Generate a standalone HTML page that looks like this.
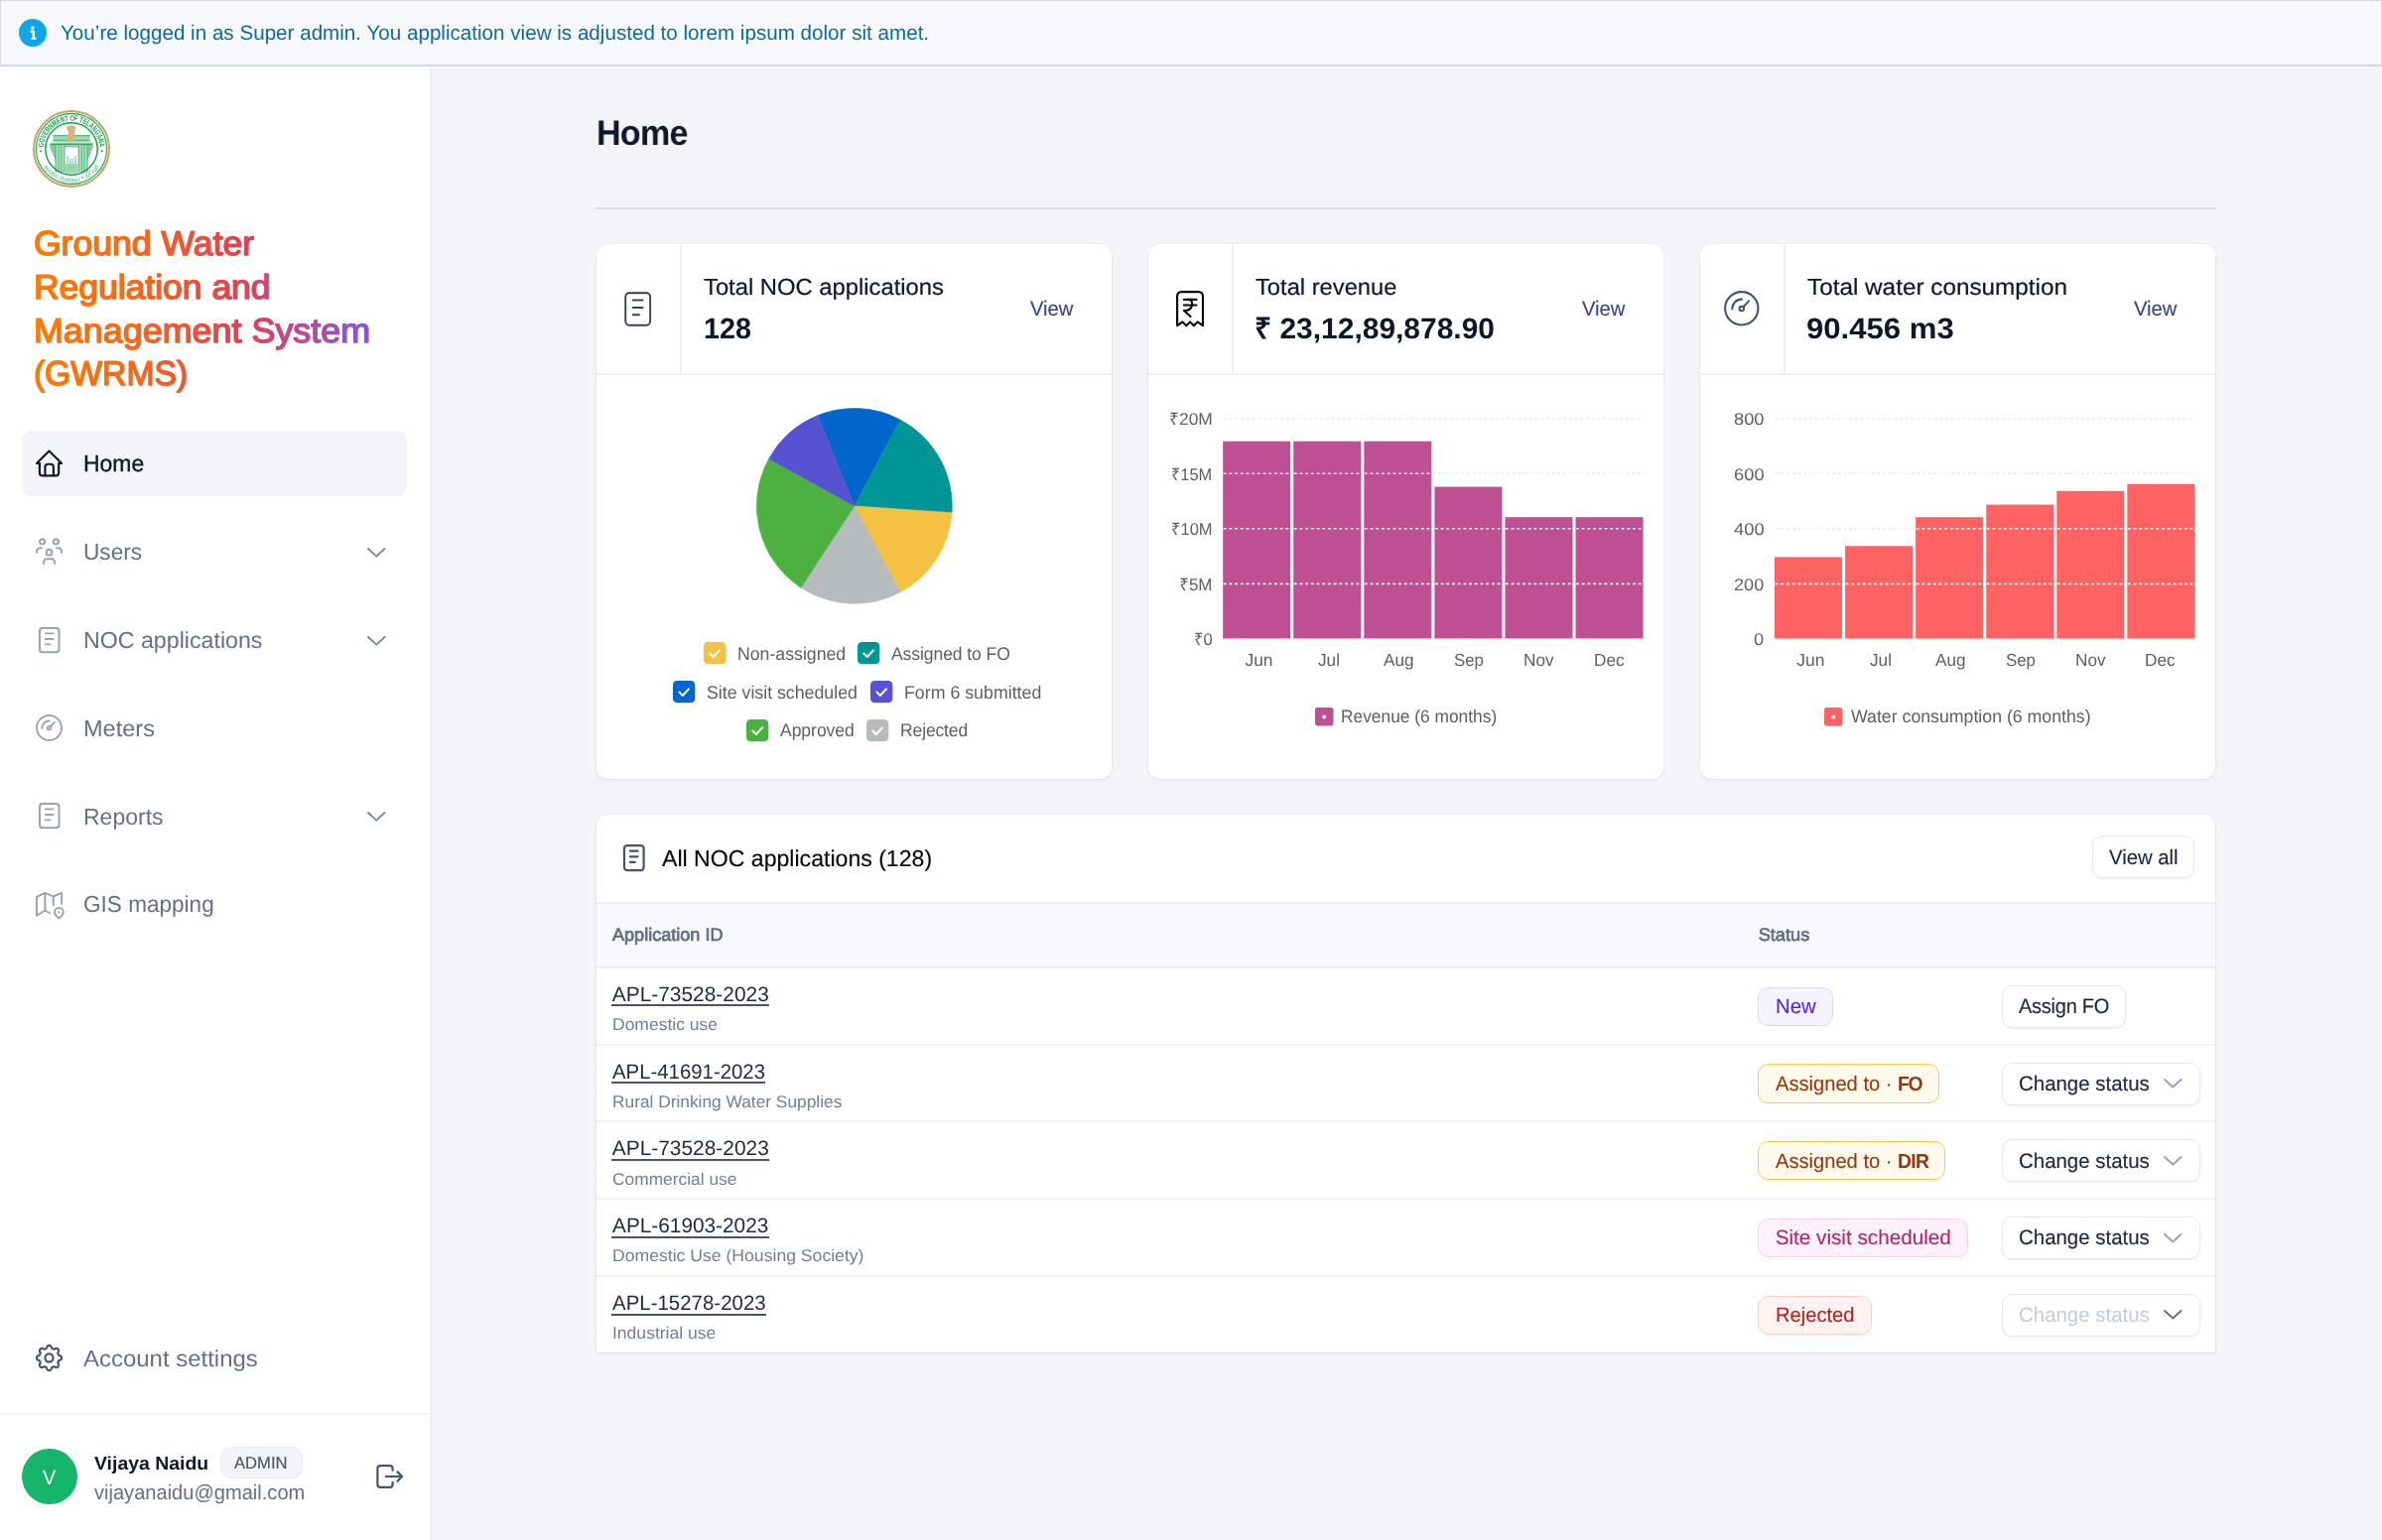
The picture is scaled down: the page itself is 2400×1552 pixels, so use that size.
<!DOCTYPE html><html><head><meta charset="utf-8"><title>Home</title><style>
*{box-sizing:border-box;margin:0;padding:0}
html,body{width:2400px;height:1552px;overflow:hidden}
body{background:#f2f4f8;font-family:"Liberation Sans",sans-serif;position:relative}
.t{position:absolute;white-space:pre;line-height:1;display:block;transform-origin:0 0;text-rendering:geometricPrecision}
#root{position:absolute;left:0;top:0;width:2400px;height:1552px;will-change:transform}
.abs{position:absolute}
svg{position:absolute;overflow:visible}
.card{position:absolute;background:#fff;border-radius:12px;box-shadow:0 1px 3px rgba(16,24,40,.07),0 0 0 1px rgba(16,24,40,.025)}
.btn{position:absolute;background:#fff;border:1.2px solid #e5e8ee;border-radius:10px;box-shadow:0 1px 2px rgba(16,24,40,.06)}
.badge{position:absolute;border-radius:9px;border:1.3px solid}
.hl{position:absolute;height:2px;background:#eceef4}
.vl{position:absolute;width:1.6px;background:#eceef4}
</style></head><body>
<div id="root">
<div class="abs" style="left:0;top:66px;width:435px;height:1486px;background:#fff;border-right:2px solid #eceef3"></div><svg style="left:20px;top:100px" width="100" height="100" viewBox="0 0 100 100"><circle cx="52" cy="50" r="38" fill="#fff" stroke="#c9a463" stroke-width="2.1"/><circle cx="52" cy="50" r="35.6" fill="none" stroke="#19a34e" stroke-width="1.1"/><circle cx="52" cy="50" r="26.2" fill="none" stroke="#19a34e" stroke-width="1.5"/><defs><path id="lp1" d="M 23.74 48.52 A 28.3 28.3 0 0 1 80.26 48.52"/><path id="lp2" d="M 20.23 60.32 A 33.4 33.4 0 0 0 83.77 60.32"/></defs><text font-family="Liberation Sans" font-weight="700" font-size="8" fill="#19a34e"><textPath href="#lp1" textLength="85" lengthAdjust="spacingAndGlyphs">GOVERNMENT OF TELANGANA</textPath></text><text font-family="Liberation Sans" font-weight="400" font-style="italic" font-size="6.4" fill="#19a34e" opacity=".8" letter-spacing="0"><textPath href="#lp2" startOffset="50%" text-anchor="middle">eoooo dooojuu • /u/ rüñ</textPath></text><circle cx="21.2" cy="52.2" r="1.05" fill="#19a34e"/><circle cx="82.8" cy="52.2" r="1.05" fill="#19a34e"/><g fill="#19a34e"><rect x="30.6" y="44.4" width="42.8" height="2" opacity=".95"/><rect x="33.4" y="36.6" width="37.2" height="7" opacity=".42"/><rect x="33.4" y="36.2" width="37.2" height="1" opacity=".8"/><rect x="33.4" y="40.8" width="37.2" height=".9" opacity=".7"/><path d="M29.4 46.4h6.4v15.2z" opacity=".55"/><path d="M74.6 46.4h-6.4v15.2z" opacity=".55"/><rect x="35.6" y="46.6" width="9.6" height="27.4" opacity=".34"/><rect x="58.8" y="46.6" width="9.6" height="27.4" opacity=".34"/><rect x="45.8" y="65" width="12.4" height="9.6" opacity=".45"/><rect x="35.6" y="46.6" width=".9" height="27" opacity=".75"/><rect x="38.6" y="46.6" width=".9" height="27" opacity=".75"/><rect x="41.4" y="46.6" width=".9" height="27" opacity=".75"/><rect x="44.4" y="46.6" width=".9" height="27" opacity=".75"/><rect x="58.8" y="46.6" width=".9" height="27" opacity=".75"/><rect x="61.8" y="46.6" width=".9" height="27" opacity=".75"/><rect x="64.6" y="46.6" width=".9" height="27" opacity=".75"/><rect x="67.6" y="46.6" width=".9" height="27" opacity=".75"/><rect x="47.6" y="57" width="1.1" height="8" opacity=".6"/><rect x="50.4" y="60" width="1.1" height="5" opacity=".6"/><rect x="52.6" y="60" width="1.1" height="5" opacity=".6"/><rect x="55.4" y="57" width="1.1" height="8" opacity=".6"/><rect x="44.6" y="47" width="14.8" height="1.4" opacity=".6"/></g><g fill="#d8b27c"><ellipse cx="51.8" cy="29.6" rx="4.6" ry="3"/><rect x="48.8" y="31" width="6.4" height="9" rx="1.4"/><rect x="47.6" y="39.6" width="8.4" height="3.4" opacity=".7"/></g></svg><svg style="left:0;top:0" width="440" height="420" viewBox="0 0 440 420"><defs><linearGradient id="tg" gradientUnits="userSpaceOnUse" x1="34" y1="0" x2="374" y2="0"><stop offset="0" stop-color="#ff7a00"/><stop offset=".3" stop-color="#f8681a"/><stop offset=".58" stop-color="#e5434a"/><stop offset=".79" stop-color="#b94b94"/><stop offset="1" stop-color="#8456e0"/></linearGradient></defs><text x="33.90" y="257" textLength="222.30" lengthAdjust="spacingAndGlyphs" text-rendering="geometricPrecision" font-family="Liberation Sans" font-size="34.6" font-weight="400" fill="url(#tg)" stroke="url(#tg)" stroke-width="1.5" stroke-linejoin="round" >Ground Water</text><text x="33.90" y="301" textLength="238.70" lengthAdjust="spacingAndGlyphs" text-rendering="geometricPrecision" font-family="Liberation Sans" font-size="34.6" font-weight="400" fill="url(#tg)" stroke="url(#tg)" stroke-width="1.5" stroke-linejoin="round" >Regulation and</text><text x="33.90" y="345" textLength="339.30" lengthAdjust="spacingAndGlyphs" text-rendering="geometricPrecision" font-family="Liberation Sans" font-size="34.6" font-weight="400" fill="url(#tg)" stroke="url(#tg)" stroke-width="1.5" stroke-linejoin="round" >Management System</text><text x="33.90" y="388" textLength="155.30" lengthAdjust="spacingAndGlyphs" text-rendering="geometricPrecision" font-family="Liberation Sans" font-size="34.6" font-weight="400" fill="url(#tg)" stroke="url(#tg)" stroke-width="1.5" stroke-linejoin="round" >(GWRMS)</text></svg><div class="abs" style="left:22px;top:433.6px;width:387.5px;height:66.4px;background:#f2f4f8;border-radius:9px"></div><span class="t" style="left:83.80px;top:456.00px;font-size:23.2px;color:#0f172a;transform:scaleX(0.9910);-webkit-text-stroke:0.35px #0f172a;">Home</span><svg style="left:36.05px;top:452.8px" width="27.1" height="27.8" viewBox="0 0 27 28" preserveAspectRatio="none"><g fill="none" stroke="#0f172a" stroke-width="2.15" stroke-linecap="round" stroke-linejoin="round"><path d="M1 14.1H3.9M23.1 14.1H26M1.6 13.3 13.5 1.5 25.4 13.3"/><path d="M3.9 14.1v9.5a3 3 0 0 0 3 3h13.2a3 3 0 0 0 3-3v-9.5"/><path d="M9.4 26.4v-8.6a3 3 0 0 1 3-3h2.4a3 3 0 0 1 3 3v8.6"/></g></svg><span class="t" style="left:84.00px;top:545.00px;font-size:23.2px;color:#667085;transform:scaleX(0.9775);">Users</span><svg style="left:36px;top:542.46px" width="27" height="27" viewBox="0 0 24 24" preserveAspectRatio="none"><g fill="none" stroke="#98a2b3" stroke-width="1.8" stroke-linecap="round" stroke-linejoin="round"><circle cx="5.9" cy="3.4" r="2.3"/><circle cx="18.1" cy="3.4" r="2.3"/><circle cx="12" cy="13" r="2.6"/><path d="M1 13.2v-1.4a2.6 2.6 0 0 1 2.6-2.6h1.6"/><path d="M23 13.2v-1.4a2.6 2.6 0 0 0-2.6-2.6h-1.6"/><path d="M7 23v-1.2a3 3 0 0 1 3-3h4a3 3 0 0 1 3 3V23"/></g></svg><svg style="left:369.6px;top:551.7600000000001px" width="18.6" height="9.6" viewBox="0 0 18.6 9.6"><path d="M1 1 L9.3 8.6 L17.6 1" fill="none" stroke="#7a86a0" stroke-width="1.9" stroke-linecap="round" stroke-linejoin="round"/></svg><span class="t" style="left:84.00px;top:634.00px;font-size:23.2px;color:#667085;">NOC applications</span><svg style="left:38.9px;top:631.72px" width="21.5" height="26.2" viewBox="0 0 22 27" preserveAspectRatio="none"><g fill="none" stroke="#98a2b3" stroke-width="2.0" stroke-linecap="round" stroke-linejoin="round"><rect x="1" y="1" width="20" height="25" rx="3"/><path d="M7 6.6h7.9M7 12.3h7.9M7 17.9h5"/></g></svg><svg style="left:369.6px;top:640.6200000000001px" width="18.6" height="9.6" viewBox="0 0 18.6 9.6"><path d="M1 1 L9.3 8.6 L17.6 1" fill="none" stroke="#7a86a0" stroke-width="1.9" stroke-linecap="round" stroke-linejoin="round"/></svg><span class="t" style="left:84.00px;top:723.00px;font-size:23.2px;color:#667085;transform:scaleX(1.0145);">Meters</span><svg style="left:36px;top:720.1800000000001px" width="27" height="27" viewBox="0 0 36 36" preserveAspectRatio="none"><g fill="none" stroke="#98a2b3" stroke-width="2.5" stroke-linecap="round" stroke-linejoin="round"><circle cx="18" cy="18" r="16.65"/><path d="M8.4 18.6A9.6 9.6 0 0 1 18.2 8.7"/><circle cx="18" cy="18.2" r="2.3"/><path d="M19.7 16.5 25.3 10.5"/></g></svg><span class="t" style="left:84.00px;top:812.00px;font-size:23.2px;color:#667085;transform:scaleX(0.9926);">Reports</span><svg style="left:38.9px;top:809.4399999999999px" width="21.5" height="26.2" viewBox="0 0 22 27" preserveAspectRatio="none"><g fill="none" stroke="#98a2b3" stroke-width="2.0" stroke-linecap="round" stroke-linejoin="round"><rect x="1" y="1" width="20" height="25" rx="3"/><path d="M7 6.6h7.9M7 12.3h7.9M7 17.9h5"/></g></svg><svg style="left:369.6px;top:818.34px" width="18.6" height="9.6" viewBox="0 0 18.6 9.6"><path d="M1 1 L9.3 8.6 L17.6 1" fill="none" stroke="#7a86a0" stroke-width="1.9" stroke-linecap="round" stroke-linejoin="round"/></svg><span class="t" style="left:84.00px;top:900.00px;font-size:23.2px;color:#667085;transform:scaleX(0.9731);">GIS mapping</span><svg style="left:36.05px;top:899.4000000000001px" width="29" height="28" viewBox="0 0 29 28" preserveAspectRatio="none"><g fill="none" stroke="#98a2b3" stroke-width="1.9" stroke-linecap="round" stroke-linejoin="round"><path d="M14.1 21.2 9.4 18.5 0.95 23.7V4.9L9.4 0.95l8.3 3.55L26.1 0.95V12"/><path d="M9.4 0.95V18.5M17.7 4.5v8.8"/><path d="M27.8 20.3c0 3-4.4 6.2-4.4 6.2s-4.4-3.2-4.4-6.2a4.4 4.4 0 0 1 8.8 0z"/></g><circle cx="23.4" cy="20.3" r="1.15" fill="#98a2b3"/></svg><svg style="left:36px;top:1354.9px" width="27" height="27" viewBox="0 0 24 24" preserveAspectRatio="none"><g fill="none" stroke="#475467" stroke-width="1.95" stroke-linecap="round" stroke-linejoin="round"><path d="M12.00 0.85L12.29 0.86L12.58 0.91L12.87 0.99L13.14 1.13L13.40 1.35L13.64 1.65L13.85 2.03L14.03 2.45L14.20 2.84L14.37 3.16L14.55 3.40L14.74 3.57L14.94 3.71L15.14 3.82L15.35 3.92L15.56 4.00L15.79 4.06L16.02 4.11L16.28 4.11L16.58 4.07L16.92 3.97L17.32 3.81L17.74 3.64L18.16 3.52L18.54 3.47L18.88 3.51L19.17 3.61L19.43 3.75L19.67 3.92L19.88 4.12L20.08 4.33L20.25 4.57L20.39 4.83L20.49 5.12L20.53 5.46L20.48 5.84L20.36 6.26L20.19 6.68L20.03 7.08L19.93 7.42L19.89 7.72L19.89 7.98L19.94 8.21L20.00 8.44L20.08 8.65L20.18 8.86L20.29 9.06L20.43 9.26L20.60 9.45L20.84 9.63L21.16 9.80L21.55 9.97L21.97 10.15L22.35 10.36L22.65 10.60L22.87 10.86L23.01 11.13L23.09 11.42L23.14 11.71L23.15 12.00L23.14 12.29L23.09 12.58L23.01 12.87L22.87 13.14L22.65 13.40L22.35 13.64L21.97 13.85L21.55 14.03L21.16 14.20L20.84 14.37L20.60 14.55L20.43 14.74L20.29 14.94L20.18 15.14L20.08 15.35L20.00 15.56L19.94 15.79L19.89 16.02L19.89 16.28L19.93 16.58L20.03 16.92L20.19 17.32L20.36 17.74L20.48 18.16L20.53 18.54L20.49 18.88L20.39 19.17L20.25 19.43L20.08 19.67L19.88 19.88L19.67 20.08L19.43 20.25L19.17 20.39L18.88 20.49L18.54 20.53L18.16 20.48L17.74 20.36L17.32 20.19L16.92 20.03L16.58 19.93L16.28 19.89L16.02 19.89L15.79 19.94L15.56 20.00L15.35 20.08L15.14 20.18L14.94 20.29L14.74 20.43L14.55 20.60L14.37 20.84L14.20 21.16L14.03 21.55L13.85 21.97L13.64 22.35L13.40 22.65L13.14 22.87L12.87 23.01L12.58 23.09L12.29 23.14L12.00 23.15L11.71 23.14L11.42 23.09L11.13 23.01L10.86 22.87L10.60 22.65L10.36 22.35L10.15 21.97L9.97 21.55L9.80 21.16L9.63 20.84L9.45 20.60L9.26 20.43L9.06 20.29L8.86 20.18L8.65 20.08L8.44 20.00L8.21 19.94L7.98 19.89L7.72 19.89L7.42 19.93L7.08 20.03L6.68 20.19L6.26 20.36L5.84 20.48L5.46 20.53L5.12 20.49L4.83 20.39L4.57 20.25L4.33 20.08L4.12 19.88L3.92 19.67L3.75 19.43L3.61 19.17L3.51 18.88L3.47 18.54L3.52 18.16L3.64 17.74L3.81 17.32L3.97 16.92L4.07 16.58L4.11 16.28L4.11 16.02L4.06 15.79L4.00 15.56L3.92 15.35L3.82 15.14L3.71 14.94L3.57 14.74L3.40 14.55L3.16 14.37L2.84 14.20L2.45 14.03L2.03 13.85L1.65 13.64L1.35 13.40L1.13 13.14L0.99 12.87L0.91 12.58L0.86 12.29L0.85 12.00L0.86 11.71L0.91 11.42L0.99 11.13L1.13 10.86L1.35 10.60L1.65 10.36L2.03 10.15L2.45 9.97L2.84 9.80L3.16 9.63L3.40 9.45L3.57 9.26L3.71 9.06L3.82 8.86L3.92 8.65L4.00 8.44L4.06 8.21L4.11 7.98L4.11 7.72L4.07 7.42L3.97 7.08L3.81 6.68L3.64 6.26L3.52 5.84L3.47 5.46L3.51 5.12L3.61 4.83L3.75 4.57L3.92 4.33L4.12 4.12L4.33 3.92L4.57 3.75L4.83 3.61L5.12 3.51L5.46 3.47L5.84 3.52L6.26 3.64L6.68 3.81L7.08 3.97L7.42 4.07L7.72 4.11L7.98 4.11L8.21 4.06L8.44 4.00L8.65 3.92L8.86 3.82L9.06 3.71L9.26 3.57L9.45 3.40L9.63 3.16L9.80 2.84L9.97 2.45L10.15 2.03L10.36 1.65L10.60 1.35L10.86 1.13L11.13 0.99L11.42 0.91L11.71 0.86Z"/><circle cx="12" cy="12" r="3.6"/></g></svg><span class="t" style="left:84.00px;top:1358.00px;font-size:23.2px;color:#667085;transform:scaleX(1.0333);">Account settings</span><div class="hl" style="left:0;top:1424px;width:432px;background:#eff1f5"></div><div class="abs" style="left:21.8px;top:1460.2px;width:55.8px;height:55.8px;border-radius:50%;background:#15b56c"></div><span class="t" style="left:43.40px;top:1480.00px;font-size:20.6px;color:#fff;letter-spacing:-0.833px;transform:scaleX(0.9600);">V</span><span class="t" style="left:94.80px;top:1466.00px;font-size:18.8px;color:#0f172a;font-weight:700;transform:scaleX(1.0345);">Vijaya Naidu</span><div class="abs" style="left:221.8px;top:1457.6px;width:83.4px;height:32.8px;border-radius:11px;background:#f2f4f8;border:1.2px solid #e9ebf2"></div><span class="t" style="left:236.40px;top:1466.00px;font-size:17.2px;color:#475467;transform:scaleX(0.9677);-webkit-text-stroke:0.15px #475467;">ADMIN</span><span class="t" style="left:95.10px;top:1495.00px;font-size:20.9px;color:#667085;transform:scaleX(0.9609);">vijayanaidu@gmail.com</span><svg style="left:379px;top:1475px" width="28" height="26" viewBox="0 0 28 26" preserveAspectRatio="none"><g fill="none" stroke="#475467" stroke-width="2.2" stroke-linecap="round" stroke-linejoin="round"><path d="M16.6 6.8V4.9a2.8 2.8 0 0 0-2.8-2.8H4.2a2.8 2.8 0 0 0-2.8 2.8v16.2a2.8 2.8 0 0 0 2.8 2.8h9.6a2.8 2.8 0 0 0 2.8-2.8v-2.3"/><path d="M9.9 13h15.9M21.5 8.4 26.1 13 21.5 17.6"/></g></svg>
<span class="t" style="left:601.20px;top:117.00px;font-size:35.6px;color:#0f172a;font-weight:700;letter-spacing:-0.870px;transform:scaleX(0.9600);">Home</span><div class="hl" style="left:600px;top:209.4px;width:1632px;background:#d9dde7"></div><div class="card" style="left:600.9px;top:245.8px;width:519.3px;height:539.4px"></div><div class="hl" style="left:600.9px;top:376.4px;width:519.3px"></div><div class="vl" style="left:685.3px;top:245.8px;height:131px"></div><svg style="left:629.3px;top:293.6px" width="27.4" height="35" viewBox="0 0 22 27" preserveAspectRatio="none"><g fill="none" stroke="#344054" stroke-width="1.5" stroke-linecap="round" stroke-linejoin="round"><rect x="1" y="1" width="20" height="25" rx="3"/><path d="M7 6.6h7.9M7 12.3h7.9M7 17.9h5"/></g></svg><span class="t" style="left:708.90px;top:278.00px;font-size:23.2px;color:#0f172a;transform:scaleX(1.0260);-webkit-text-stroke:0.22px #0f172a;">Total NOC applications</span><span class="t" style="left:708.50px;top:317.00px;font-size:29.4px;color:#0f172a;font-weight:700;transform:scaleX(0.9787);">128</span><span class="t" style="left:1037.90px;top:302.00px;font-size:20.9px;color:#3e4784;transform:scaleX(0.9665);-webkit-text-stroke:0.15px #3e4784;">View</span><svg style="left:0;top:0" width="2400" height="1552" viewBox="0 0 2400 1552"><path d="M860.9 509.9L824.02 418.62A98.45 98.45 0 0 1 907.12 422.97Z" fill="#0066cc" stroke="#0066cc" stroke-width="0.6"/><path d="M860.9 509.9L907.12 422.97A98.45 98.45 0 0 1 959.11 516.77Z" fill="#009596" stroke="#009596" stroke-width="0.6"/><path d="M860.9 509.9L959.11 516.77A98.45 98.45 0 0 1 907.12 596.83Z" fill="#f4c145" stroke="#f4c145" stroke-width="0.6"/><path d="M860.9 509.9L907.12 596.83A98.45 98.45 0 0 1 806.99 592.28Z" fill="#b8bbbe" stroke="#b8bbbe" stroke-width="0.6"/><path d="M860.9 509.9L806.99 592.28A98.45 98.45 0 0 1 774.79 462.17Z" fill="#4cb140" stroke="#4cb140" stroke-width="0.6"/><path d="M860.9 509.9L774.79 462.17A98.45 98.45 0 0 1 824.02 418.62Z" fill="#5752d1" stroke="#5752d1" stroke-width="0.6"/></svg><svg style="left:708.9px;top:647.4px" width="22.3" height="22.3" viewBox="0 0 22.3 22.3"><rect width="22.3" height="22.3" rx="4.4" fill="#f4c145"/><path d="M6.4 11.6l3.4 3.4 6.2-6.6" fill="none" stroke="#fff" stroke-width="2.1" stroke-linecap="round" stroke-linejoin="round"/></svg><span class="t" style="left:743.00px;top:650.00px;font-size:18.3px;color:#5c5f62;transform:scaleX(0.9680);">Non-assigned</span><svg style="left:864.4px;top:647.4px" width="22.3" height="22.3" viewBox="0 0 22.3 22.3"><rect width="22.3" height="22.3" rx="4.4" fill="#009596"/><path d="M6.4 11.6l3.4 3.4 6.2-6.6" fill="none" stroke="#fff" stroke-width="2.1" stroke-linecap="round" stroke-linejoin="round"/></svg><span class="t" style="left:898.20px;top:650.00px;font-size:18.3px;color:#5c5f62;letter-spacing:-0.093px;transform:scaleX(0.9600);">Assigned to FO</span><svg style="left:678.2px;top:686.2px" width="22.3" height="22.3" viewBox="0 0 22.3 22.3"><rect width="22.3" height="22.3" rx="4.4" fill="#0066cc"/><path d="M6.4 11.6l3.4 3.4 6.2-6.6" fill="none" stroke="#fff" stroke-width="2.1" stroke-linecap="round" stroke-linejoin="round"/></svg><span class="t" style="left:712.30px;top:689.00px;font-size:18.3px;color:#5c5f62;transform:scaleX(0.9706);">Site visit scheduled</span><svg style="left:876.7px;top:686.2px" width="22.3" height="22.3" viewBox="0 0 22.3 22.3"><rect width="22.3" height="22.3" rx="4.4" fill="#5752d1"/><path d="M6.4 11.6l3.4 3.4 6.2-6.6" fill="none" stroke="#fff" stroke-width="2.1" stroke-linecap="round" stroke-linejoin="round"/></svg><span class="t" style="left:910.50px;top:689.00px;font-size:18.3px;color:#5c5f62;transform:scaleX(0.9723);">Form 6 submitted</span><svg style="left:751.9px;top:725.0px" width="22.3" height="22.3" viewBox="0 0 22.3 22.3"><rect width="22.3" height="22.3" rx="4.4" fill="#4cb140"/><path d="M6.4 11.6l3.4 3.4 6.2-6.6" fill="none" stroke="#fff" stroke-width="2.1" stroke-linecap="round" stroke-linejoin="round"/></svg><span class="t" style="left:786.00px;top:727.00px;font-size:18.3px;color:#5c5f62;letter-spacing:-0.050px;transform:scaleX(0.9600);">Approved</span><svg style="left:872.8px;top:725.0px" width="22.3" height="22.3" viewBox="0 0 22.3 22.3"><rect width="22.3" height="22.3" rx="4.4" fill="#b8bbbe"/><path d="M6.4 11.6l3.4 3.4 6.2-6.6" fill="none" stroke="#fff" stroke-width="2.1" stroke-linecap="round" stroke-linejoin="round"/></svg><span class="t" style="left:906.60px;top:727.00px;font-size:18.3px;color:#5c5f62;letter-spacing:-0.159px;transform:scaleX(0.9600);">Rejected</span><div class="card" style="left:1156.8px;top:245.8px;width:519.3px;height:539.4px"></div><div class="hl" style="left:1156.8px;top:376.4px;width:519.3px"></div><div class="vl" style="left:1241.2px;top:245.8px;height:131px"></div><svg style="left:1184.9px;top:292.9px" width="28.1" height="36.1" viewBox="0 0 28 36" preserveAspectRatio="none"><g fill="none" stroke="#050505" stroke-width="2.1" stroke-linecap="round" stroke-linejoin="round"><path d="M1.1 35V5.4A4.3 4.3 0 0 1 5.4 1.1h17.2a4.3 4.3 0 0 1 4.3 4.3V35l-5.4-3.7-3.7 3.9-3.8-3.9-3.8 3.9-3.7-3.9z"/><path d="M7.9 8.9h12.5M7.9 14.4h12.5"/><path d="M12.4 8.9c5.6 0 5.6 11.1-4.5 11.1l6.6 6"/></g></svg><span class="t" style="left:1264.80px;top:278.00px;font-size:23.2px;color:#0f172a;transform:scaleX(1.0229);-webkit-text-stroke:0.22px #0f172a;">Total revenue</span><span class="t" style="left:1264.40px;top:317.00px;font-size:29.4px;color:#0f172a;font-weight:700;transform:scaleX(1.0191);">₹ 23,12,89,878.90</span><span class="t" style="left:1593.80px;top:302.00px;font-size:20.9px;color:#3e4784;transform:scaleX(0.9665);-webkit-text-stroke:0.15px #3e4784;">View</span><svg style="left:0;top:0" width="2400" height="1552" viewBox="0 0 2400 1552"><line x1="1233.2" y1="421.7" x2="1656.2" y2="421.7" stroke="#e8eaf0" stroke-width="1.5" stroke-dasharray="2.9 2.8"/><line x1="1233.2" y1="477.2" x2="1656.2" y2="477.2" stroke="#e8eaf0" stroke-width="1.5" stroke-dasharray="2.9 2.8"/><line x1="1233.2" y1="532.8" x2="1656.2" y2="532.8" stroke="#e8eaf0" stroke-width="1.5" stroke-dasharray="2.9 2.8"/><line x1="1233.2" y1="588.4" x2="1656.2" y2="588.4" stroke="#e8eaf0" stroke-width="1.5" stroke-dasharray="2.9 2.8"/><line x1="1232.2" y1="644.2" x2="1656.2" y2="644.2" stroke="#ececec" stroke-width="1.6"/><rect x="1232.20" y="444.7" width="68" height="198.70" fill="#bd4f92"/><line x1="1232.70" y1="477.2" x2="1300.20" y2="477.2" stroke="#fff" stroke-opacity=".9" stroke-width="1.6" stroke-dasharray="2.9 2.8"/><line x1="1232.70" y1="532.8" x2="1300.20" y2="532.8" stroke="#fff" stroke-opacity=".9" stroke-width="1.6" stroke-dasharray="2.9 2.8"/><line x1="1232.70" y1="588.4" x2="1300.20" y2="588.4" stroke="#fff" stroke-opacity=".9" stroke-width="1.6" stroke-dasharray="2.9 2.8"/><rect x="1303.27" y="444.7" width="68" height="198.70" fill="#bd4f92"/><line x1="1303.77" y1="477.2" x2="1371.27" y2="477.2" stroke="#fff" stroke-opacity=".9" stroke-width="1.6" stroke-dasharray="2.9 2.8"/><line x1="1303.77" y1="532.8" x2="1371.27" y2="532.8" stroke="#fff" stroke-opacity=".9" stroke-width="1.6" stroke-dasharray="2.9 2.8"/><line x1="1303.77" y1="588.4" x2="1371.27" y2="588.4" stroke="#fff" stroke-opacity=".9" stroke-width="1.6" stroke-dasharray="2.9 2.8"/><rect x="1374.34" y="444.7" width="68" height="198.70" fill="#bd4f92"/><line x1="1374.84" y1="477.2" x2="1442.34" y2="477.2" stroke="#fff" stroke-opacity=".9" stroke-width="1.6" stroke-dasharray="2.9 2.8"/><line x1="1374.84" y1="532.8" x2="1442.34" y2="532.8" stroke="#fff" stroke-opacity=".9" stroke-width="1.6" stroke-dasharray="2.9 2.8"/><line x1="1374.84" y1="588.4" x2="1442.34" y2="588.4" stroke="#fff" stroke-opacity=".9" stroke-width="1.6" stroke-dasharray="2.9 2.8"/><rect x="1445.41" y="490.6" width="68" height="152.80" fill="#bd4f92"/><line x1="1445.91" y1="532.8" x2="1513.41" y2="532.8" stroke="#fff" stroke-opacity=".9" stroke-width="1.6" stroke-dasharray="2.9 2.8"/><line x1="1445.91" y1="588.4" x2="1513.41" y2="588.4" stroke="#fff" stroke-opacity=".9" stroke-width="1.6" stroke-dasharray="2.9 2.8"/><rect x="1516.48" y="521.2" width="68" height="122.20" fill="#bd4f92"/><line x1="1516.98" y1="532.8" x2="1584.48" y2="532.8" stroke="#fff" stroke-opacity=".9" stroke-width="1.6" stroke-dasharray="2.9 2.8"/><line x1="1516.98" y1="588.4" x2="1584.48" y2="588.4" stroke="#fff" stroke-opacity=".9" stroke-width="1.6" stroke-dasharray="2.9 2.8"/><rect x="1587.55" y="521.2" width="68" height="122.20" fill="#bd4f92"/><line x1="1588.05" y1="532.8" x2="1655.55" y2="532.8" stroke="#fff" stroke-opacity=".9" stroke-width="1.6" stroke-dasharray="2.9 2.8"/><line x1="1588.05" y1="588.4" x2="1655.55" y2="588.4" stroke="#fff" stroke-opacity=".9" stroke-width="1.6" stroke-dasharray="2.9 2.8"/></svg><span class="t" style="left:1177.80px;top:414.00px;font-size:17px;color:#5c5f62;transform:scaleX(1.0234);">₹20M</span><span class="t" style="left:1180.40px;top:470.00px;font-size:17px;color:#5c5f62;transform:scaleX(0.9627);">₹15M</span><span class="t" style="left:1180.00px;top:525.00px;font-size:17px;color:#5c5f62;transform:scaleX(0.9720);">₹10M</span><span class="t" style="left:1188.20px;top:581.00px;font-size:17px;color:#5c5f62;">₹5M</span><span class="t" style="left:1203.00px;top:636.00px;font-size:17px;color:#5c5f62;transform:scaleX(0.9694);">₹0</span><span class="t" style="left:1254.50px;top:657.00px;font-size:17.4px;color:#5c5f62;">Jun</span><span class="t" style="left:1328.00px;top:657.00px;font-size:17.4px;color:#5c5f62;transform:scaleX(0.9895);">Jul</span><span class="t" style="left:1393.95px;top:657.00px;font-size:17.4px;color:#5c5f62;transform:scaleX(0.9854);">Aug</span><span class="t" style="left:1464.70px;top:657.00px;font-size:17.4px;color:#5c5f62;transform:scaleX(0.9692);">Sep</span><span class="t" style="left:1534.75px;top:657.00px;font-size:17.4px;color:#5c5f62;transform:scaleX(0.9859);">Nov</span><span class="t" style="left:1605.55px;top:657.00px;font-size:17.4px;color:#5c5f62;transform:scaleX(0.9859);">Dec</span><svg style="left:1325px;top:713.2px" width="18.5" height="18.5" viewBox="0 0 18.5 18.5"><rect width="18.5" height="18.5" rx="2.7" fill="#bd4f92"/><circle cx="9.2" cy="9.4" r="2" fill="#fff"/></svg><span class="t" style="left:1351.10px;top:713.00px;font-size:18px;color:#5c5f62;transform:scaleX(0.9639);">Revenue (6 months)</span><div class="card" style="left:1712.6px;top:245.8px;width:519.3px;height:539.4px"></div><div class="hl" style="left:1712.6px;top:376.4px;width:519.3px"></div><div class="vl" style="left:1797.0px;top:245.8px;height:131px"></div><svg style="left:1736.5px;top:293.1px" width="35.6" height="35.6" viewBox="0 0 36 36" preserveAspectRatio="none"><g fill="none" stroke="#44546a" stroke-width="2.1" stroke-linecap="round" stroke-linejoin="round"><circle cx="18" cy="18" r="16.85"/><path d="M8.4 18.6A9.6 9.6 0 0 1 18.2 8.7"/><circle cx="18" cy="18.2" r="2.3"/><path d="M19.7 16.5 25.3 10.5"/></g></svg><span class="t" style="left:1820.60px;top:278.00px;font-size:23.2px;color:#0f172a;transform:scaleX(1.0478);-webkit-text-stroke:0.22px #0f172a;">Total water consumption</span><span class="t" style="left:1820.20px;top:317.00px;font-size:29.4px;color:#0f172a;font-weight:700;transform:scaleX(1.0587);">90.456 m3</span><span class="t" style="left:2149.60px;top:302.00px;font-size:20.9px;color:#3e4784;transform:scaleX(0.9665);-webkit-text-stroke:0.15px #3e4784;">View</span><svg style="left:0;top:0" width="2400" height="1552" viewBox="0 0 2400 1552"><line x1="1789.0" y1="421.7" x2="2212.0" y2="421.7" stroke="#e8eaf0" stroke-width="1.5" stroke-dasharray="2.9 2.8"/><line x1="1789.0" y1="477.2" x2="2212.0" y2="477.2" stroke="#e8eaf0" stroke-width="1.5" stroke-dasharray="2.9 2.8"/><line x1="1789.0" y1="532.8" x2="2212.0" y2="532.8" stroke="#e8eaf0" stroke-width="1.5" stroke-dasharray="2.9 2.8"/><line x1="1789.0" y1="588.4" x2="2212.0" y2="588.4" stroke="#e8eaf0" stroke-width="1.5" stroke-dasharray="2.9 2.8"/><line x1="1788.0" y1="644.2" x2="2212.0" y2="644.2" stroke="#ececec" stroke-width="1.6"/><rect x="1788.00" y="561.4" width="68" height="82.00" fill="#fe6262"/><line x1="1788.50" y1="588.4" x2="1856.00" y2="588.4" stroke="#fff" stroke-opacity=".9" stroke-width="1.6" stroke-dasharray="2.9 2.8"/><rect x="1859.07" y="550.3" width="68" height="93.10" fill="#fe6262"/><line x1="1859.57" y1="588.4" x2="1927.07" y2="588.4" stroke="#fff" stroke-opacity=".9" stroke-width="1.6" stroke-dasharray="2.9 2.8"/><rect x="1930.14" y="521.2" width="68" height="122.20" fill="#fe6262"/><line x1="1930.64" y1="532.8" x2="1998.14" y2="532.8" stroke="#fff" stroke-opacity=".9" stroke-width="1.6" stroke-dasharray="2.9 2.8"/><line x1="1930.64" y1="588.4" x2="1998.14" y2="588.4" stroke="#fff" stroke-opacity=".9" stroke-width="1.6" stroke-dasharray="2.9 2.8"/><rect x="2001.21" y="508.6" width="68" height="134.80" fill="#fe6262"/><line x1="2001.71" y1="532.8" x2="2069.21" y2="532.8" stroke="#fff" stroke-opacity=".9" stroke-width="1.6" stroke-dasharray="2.9 2.8"/><line x1="2001.71" y1="588.4" x2="2069.21" y2="588.4" stroke="#fff" stroke-opacity=".9" stroke-width="1.6" stroke-dasharray="2.9 2.8"/><rect x="2072.28" y="494.8" width="68" height="148.60" fill="#fe6262"/><line x1="2072.78" y1="532.8" x2="2140.28" y2="532.8" stroke="#fff" stroke-opacity=".9" stroke-width="1.6" stroke-dasharray="2.9 2.8"/><line x1="2072.78" y1="588.4" x2="2140.28" y2="588.4" stroke="#fff" stroke-opacity=".9" stroke-width="1.6" stroke-dasharray="2.9 2.8"/><rect x="2143.35" y="487.8" width="68" height="155.60" fill="#fe6262"/><line x1="2143.85" y1="532.8" x2="2211.35" y2="532.8" stroke="#fff" stroke-opacity=".9" stroke-width="1.6" stroke-dasharray="2.9 2.8"/><line x1="2143.85" y1="588.4" x2="2211.35" y2="588.4" stroke="#fff" stroke-opacity=".9" stroke-width="1.6" stroke-dasharray="2.9 2.8"/></svg><span class="t" style="left:1747.00px;top:414.00px;font-size:17px;color:#5c5f62;transform:scaleX(1.0714);">800</span><span class="t" style="left:1746.80px;top:470.00px;font-size:17px;color:#5c5f62;letter-spacing:0.045px;transform:scaleX(1.0750);">600</span><span class="t" style="left:1746.60px;top:525.00px;font-size:17px;color:#5c5f62;letter-spacing:0.138px;transform:scaleX(1.0750);">400</span><span class="t" style="left:1747.20px;top:581.00px;font-size:17px;color:#5c5f62;transform:scaleX(1.0643);">200</span><span class="t" style="left:1767.20px;top:636.00px;font-size:17px;color:#5c5f62;transform:scaleX(1.0750);">0</span><span class="t" style="left:1810.30px;top:657.00px;font-size:17.4px;color:#5c5f62;">Jun</span><span class="t" style="left:1883.80px;top:657.00px;font-size:17.4px;color:#5c5f62;transform:scaleX(0.9895);">Jul</span><span class="t" style="left:1949.75px;top:657.00px;font-size:17.4px;color:#5c5f62;transform:scaleX(0.9854);">Aug</span><span class="t" style="left:2020.50px;top:657.00px;font-size:17.4px;color:#5c5f62;transform:scaleX(0.9692);">Sep</span><span class="t" style="left:2090.55px;top:657.00px;font-size:17.4px;color:#5c5f62;transform:scaleX(0.9859);">Nov</span><span class="t" style="left:2161.35px;top:657.00px;font-size:17.4px;color:#5c5f62;transform:scaleX(0.9859);">Dec</span><svg style="left:1838.3px;top:713.2px" width="18.5" height="18.5" viewBox="0 0 18.5 18.5"><rect width="18.5" height="18.5" rx="2.7" fill="#fe6262"/><circle cx="9.2" cy="9.4" r="2" fill="#fff"/></svg><span class="t" style="left:1864.70px;top:713.00px;font-size:18px;color:#5c5f62;transform:scaleX(0.9844);">Water consumption (6 months)</span><div class="card" style="left:601px;top:820.8px;width:1631px;height:542.6px;overflow:hidden;border-radius:12px 12px 0 0"><div class="abs" style="left:0;top:88.4px;width:1631px;height:66.4px;background:#f8f9fc;border-top:2px solid #eceef4;border-bottom:2px solid #eceef4"></div></div><svg style="left:627.9px;top:850.6px" width="21.6" height="27" viewBox="0 0 22 27" preserveAspectRatio="none"><g fill="none" stroke="#475467" stroke-width="2.25" stroke-linecap="round" stroke-linejoin="round"><rect x="1" y="1" width="20" height="25" rx="3"/><path d="M7 6.6h7.9M7 12.3h7.9M7 17.9h5"/></g></svg><span class="t" style="left:667.30px;top:854.00px;font-size:23.2px;color:#05070d;transform:scaleX(0.9959);-webkit-text-stroke:0.15px #05070d;">All NOC applications (128)</span><div class="btn" style="left:2108.1px;top:842.4px;width:102.8px;height:43px"></div><span class="t" style="left:2124.70px;top:855.00px;font-size:20.9px;color:#1d2939;transform:scaleX(0.9719);-webkit-text-stroke:0.15px #1d2939;">View all</span><span class="t" style="left:617.00px;top:933.00px;font-size:18.2px;color:#5f6c84;transform:scaleX(0.9936);-webkit-text-stroke:0.7px #5f6c84;">Application ID</span><span class="t" style="left:1771.70px;top:933.00px;font-size:18.2px;color:#5f6c84;-webkit-text-stroke:0.7px #5f6c84;">Status</span><span class="t" style="left:616.80px;top:993.00px;font-size:20.9px;color:#1d2939;">APL-73528-2023</span><div class="abs" style="left:616px;top:1012px;width:158.9px;height:2px;background:#4b5565"></div><span class="t" style="left:616.80px;top:1024.00px;font-size:17px;color:#717e98;transform:scaleX(1.0293);">Domestic use</span><div class="badge" style="left:1771px;top:994.60px;width:76.00px;height:39.2px;border-radius:10.4px;background:#f4f3ff;border-color:#d9d6fe;border-width:1.4px"></div><span class="t" style="left:1788.70px;top:1005.00px;font-size:20.7px;color:#5925dc;transform:scaleX(0.9833);-webkit-text-stroke:0.1px #5925dc;">New</span><div class="btn" style="left:2017.4px;top:992.80px;width:125px;height:43px"></div><span class="t" style="left:2034.40px;top:1005.00px;font-size:20.9px;color:#1d2939;letter-spacing:-0.290px;transform:scaleX(0.9600);-webkit-text-stroke:0.15px #1d2939;">Assign FO</span><div class="hl" style="left:601px;top:1051.56px;width:1631px;background:#f0f2f6"></div><span class="t" style="left:616.80px;top:1071.00px;font-size:20.9px;color:#1d2939;transform:scaleX(0.9749);">APL-41691-2023</span><div class="abs" style="left:616px;top:1090px;width:155.2px;height:2px;background:#4b5565"></div><span class="t" style="left:616.80px;top:1102.00px;font-size:17px;color:#717e98;transform:scaleX(1.0186);">Rural Drinking Water Supplies</span><div class="badge" style="left:1771px;top:1072.36px;width:183.00px;height:39.2px;border-radius:10.4px;background:#fffaeb;border-color:#fec84b;border-width:1.7px"></div><span class="t" style="left:1788.70px;top:1083.00px;font-size:20.7px;color:#93370d;transform:scaleX(0.9731);-webkit-text-stroke:0.1px #93370d;">Assigned to ·</span><span class="t" style="left:1911.50px;top:1083.00px;font-size:20.2px;color:#93370d;font-weight:700;letter-spacing:-1.380px;transform:scaleX(0.9600);">FO</span><div class="btn" style="left:2017.4px;top:1070.56px;width:199.2px;height:43px"></div><span class="t" style="left:2034.40px;top:1083.00px;font-size:20.9px;color:#1d2939;transform:scaleX(0.9783);-webkit-text-stroke:0.15px #1d2939;">Change status</span><svg style="left:2179.8px;top:1087.1599999999999px" width="18.6" height="9.6" viewBox="0 0 18.6 9.6"><path d="M1 1 L9.3 8.6 L17.6 1" fill="none" stroke="#98a2b3" stroke-width="2.0" stroke-linecap="round" stroke-linejoin="round"/></svg><div class="hl" style="left:601px;top:1129.32px;width:1631px;background:#f0f2f6"></div><span class="t" style="left:616.80px;top:1148.00px;font-size:20.9px;color:#1d2939;">APL-73528-2023</span><div class="abs" style="left:616px;top:1168px;width:158.9px;height:2px;background:#4b5565"></div><span class="t" style="left:616.80px;top:1180.00px;font-size:17px;color:#717e98;transform:scaleX(1.0211);">Commercial use</span><div class="badge" style="left:1771px;top:1150.12px;width:188.50px;height:39.2px;border-radius:10.4px;background:#fffaeb;border-color:#fec84b;border-width:1.7px"></div><span class="t" style="left:1788.70px;top:1161.00px;font-size:20.7px;color:#93370d;transform:scaleX(0.9731);-webkit-text-stroke:0.1px #93370d;">Assigned to ·</span><span class="t" style="left:1911.50px;top:1161.00px;font-size:20.2px;color:#93370d;font-weight:700;letter-spacing:-0.776px;transform:scaleX(0.9600);">DIR</span><div class="btn" style="left:2017.4px;top:1148.32px;width:199.2px;height:43px"></div><span class="t" style="left:2034.40px;top:1161.00px;font-size:20.9px;color:#1d2939;transform:scaleX(0.9783);-webkit-text-stroke:0.15px #1d2939;">Change status</span><svg style="left:2179.8px;top:1164.9199999999998px" width="18.6" height="9.6" viewBox="0 0 18.6 9.6"><path d="M1 1 L9.3 8.6 L17.6 1" fill="none" stroke="#98a2b3" stroke-width="2.0" stroke-linecap="round" stroke-linejoin="round"/></svg><div class="hl" style="left:601px;top:1207.08px;width:1631px;background:#f0f2f6"></div><span class="t" style="left:616.80px;top:1226.00px;font-size:20.9px;color:#1d2939;transform:scaleX(0.9958);">APL-61903-2023</span><div class="abs" style="left:616px;top:1246px;width:158.5px;height:2px;background:#4b5565"></div><span class="t" style="left:616.80px;top:1257.00px;font-size:17px;color:#717e98;transform:scaleX(1.0359);">Domestic Use (Housing Society)</span><div class="badge" style="left:1771px;top:1227.88px;width:212.20px;height:39.2px;border-radius:10.4px;background:#fdf2fa;border-color:#fcceee;border-width:1.4px"></div><span class="t" style="left:1788.70px;top:1238.00px;font-size:20.7px;color:#b4226f;-webkit-text-stroke:0.1px #b4226f;">Site visit scheduled</span><div class="btn" style="left:2017.4px;top:1226.08px;width:199.2px;height:43px"></div><span class="t" style="left:2034.40px;top:1238.00px;font-size:20.9px;color:#1d2939;transform:scaleX(0.9783);-webkit-text-stroke:0.15px #1d2939;">Change status</span><svg style="left:2179.8px;top:1242.6799999999998px" width="18.6" height="9.6" viewBox="0 0 18.6 9.6"><path d="M1 1 L9.3 8.6 L17.6 1" fill="none" stroke="#98a2b3" stroke-width="2.0" stroke-linecap="round" stroke-linejoin="round"/></svg><div class="hl" style="left:601px;top:1284.84px;width:1631px;background:#f0f2f6"></div><span class="t" style="left:616.80px;top:1304.00px;font-size:20.9px;color:#1d2939;transform:scaleX(0.9793);">APL-15278-2023</span><div class="abs" style="left:616px;top:1324px;width:155.9px;height:2px;background:#4b5565"></div><span class="t" style="left:616.80px;top:1335.00px;font-size:17px;color:#717e98;transform:scaleX(1.0314);">Industrial use</span><div class="badge" style="left:1771px;top:1305.64px;width:114.80px;height:39.2px;border-radius:10.4px;background:#fef3f2;border-color:#fecdca;border-width:1.4px"></div><span class="t" style="left:1788.70px;top:1316.00px;font-size:20.7px;color:#b42318;transform:scaleX(0.9736);-webkit-text-stroke:0.1px #b42318;">Rejected</span><div class="btn" style="left:2017.4px;top:1303.84px;width:199.2px;height:43px"></div><span class="t" style="left:2034.40px;top:1316.00px;font-size:20.9px;color:#c6cbd8;transform:scaleX(0.9783);">Change status</span><svg style="left:2179.8px;top:1320.4399999999998px" width="18.6" height="9.6" viewBox="0 0 18.6 9.6"><path d="M1 1 L9.3 8.6 L17.6 1" fill="none" stroke="#667085" stroke-width="2.0" stroke-linecap="round" stroke-linejoin="round"/></svg>
<div class="abs" style="left:0;top:0;width:2400px;height:66.8px;background:#f8f9fd;border:1px solid #d5d9ea;border-bottom:2px solid #d3d7e9"></div><svg style="left:19px;top:19px" width="28" height="28" viewBox="0 0 28 28"><circle cx="14" cy="14" r="14" fill="#0ea5e9"/><circle cx="13.9" cy="8.9" r="1.75" fill="#fff"/><path d="M11.6 12.7h3.2v7.2" fill="none" stroke="#fff" stroke-width="2.4" stroke-linejoin="round"/><path d="M13.4 19.7h3.2" stroke="#fff" stroke-width="2.1" stroke-linecap="round"/></svg><span class="t" style="left:60.90px;top:24.00px;font-size:20.9px;color:#0b6aa2;transform:scaleX(0.9872);">You’re logged in as Super admin. You application view is adjusted to lorem ipsum dolor sit amet.</span>
</div></body></html>
